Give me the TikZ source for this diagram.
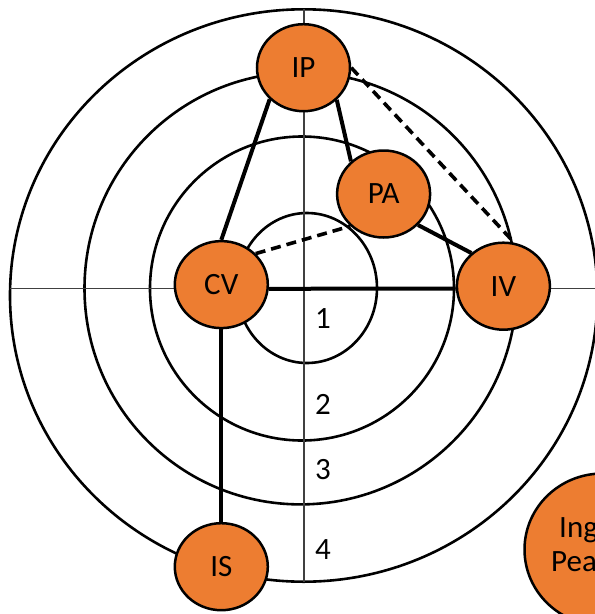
\documentclass[tikz,border=0pt]{standalone}
\usepackage{fontspec}
\setmainfont{Carlito}
\usepackage{tikz}
\usetikzlibrary{shapes.geometric}
\definecolor{stageorange}{HTML}{ED7D31}

\begin{document}
\begin{tikzpicture}[x=1pt, y=-1pt,
        stage/.style={ellipse, draw=black, line width=2.5pt, fill=stageorange,
            minimum width=93pt, minimum height=87pt, inner sep=0pt,
            font=\fontsize{31}{37}\selectfont},
        ring/.style={black, line width=2.6pt},
        axisline/.style={black!75, line width=1.6pt},
        link/.style={black, line width=4pt},
        weaklink/.style={black, line width=3.6pt, dash pattern=on 10pt off 6pt},
        level/.style={inner sep=0pt, font=\fontsize{31}{37}\selectfont}]
        \useasboundingbox (0,0) rectangle (595,614);
        \clip (0,0) rectangle (595,614);

        % Draw rings
        \draw[ring] (307,288) ellipse [x radius=70pt, y radius=75pt];
        \draw[ring] (302,288.5) circle [radius=152pt];
        \draw[ring] (300.5,288.4) circle [radius=216pt];
        \draw[ring] (303.7,295.5) ellipse [x radius=293.7pt, y radius=286.2pt];

        % Draw axes
        \draw[axisline] (303.7,9.3) -- (303.7,581.7);
        \draw[axisline] (10,288.5) -- (595,288.5);

        % Ring numbers
        \node[level] (n1) at (323,319) {1};
        \node[level] (n2) at (323,404) {2};
        \node[level] (n3) at (323,470) {3};
        \node[level] (n4) at (323,550) {4};

        % Stages
        \node[stage] (IP) at (303.5,67.7) {IP};
        \node[stage] (PA) at (383.6,194) {PA};
        \node[stage] (CV) at (221.3,284.6) {CV};
        \node[stage] (IV) at (503.4,286.2) {IV};
        \node[stage] (IS) at (221.3,566.7) {IS};

        % Half hidden stage at the corner
        \node[stage, minimum width=156pt, minimum height=152pt] (ING) at (602.5,549.5) {};
        \node[level, anchor=base west] (ingtop) at (559,537) {Ing};
        \node[level, anchor=base west] (ingbot) at (551,571) {Peat};

        % Links between stages
        \draw[link] (IP.223) -- (CV.north);
        \draw[link] (IP.316) -- (PA.135);
        \draw[weaklink] (IP.east) -- (IV.76);
        \draw[link] (PA.318) -- (IV.134);
        \draw[weaklink] (CV.42) -- (PA.224);
        \draw[link] (CV.355) -- (IV.183);
        \draw[link] (CV.south) -- (IS.north);
\end{tikzpicture}
\end{document}
